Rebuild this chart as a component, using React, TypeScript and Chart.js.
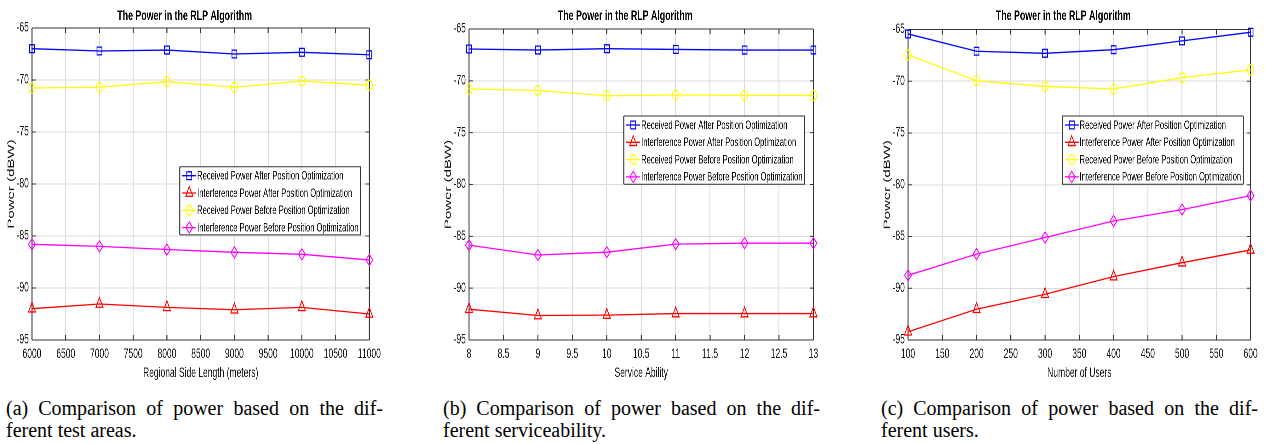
import React, { useEffect, useRef } from 'react';
import { Chart, registerables } from 'chart.js';

Chart.register(...registerables);

// ---------------- data ----------------
const seriesNames = [
  'Received Power After Position Optimization',
  'Interference Power After Position Optimization',
  'Received Power Before Position Optimization',
  'Interference Power Before Position Optimization',
];

const areaX = [6000, 7000, 8000, 9000, 10000, 11000];
const areaRecvAfter = [-66.99, -67.21, -67.12, -67.5, -67.34, -67.57];
const areaIntfAfter = [-91.99, -91.54, -91.86, -92.09, -91.86, -92.5];
const areaRecvBefore = [-70.77, -70.7, -70.16, -70.7, -70.1, -70.5];
const areaIntfBefore = [-85.8, -86.0, -86.3, -86.57, -86.76, -87.3];

const serviceX = [8, 9, 10, 11, 12, 13];
const serviceRecvAfter = [-66.93, -67.03, -66.9, -66.97, -67.03, -67.03];
const serviceIntfAfter = [-92.03, -92.64, -92.6, -92.45, -92.45, -92.45];
const serviceRecvBefore = [-70.79, -70.93, -71.44, -71.37, -71.4, -71.4];
const serviceIntfBefore = [-85.85, -86.8, -86.53, -85.75, -85.66, -85.66];

const usersX = [100, 200, 300, 400, 500, 600];
const usersRecvAfter = [-65.43, -67.1, -67.3, -66.95, -66.1, -65.27];
const usersIntfAfter = [-94.2, -92.03, -90.58, -88.88, -87.53, -86.3];
const usersRecvBefore = [-67.45, -69.95, -70.5, -70.75, -69.65, -68.9];
const usersIntfBefore = [-88.75, -86.7, -85.1, -83.5, -82.4, -81.05];

const yMin = -95;
const yMax = -65;
const yStep = 5;

const chartTitle = 'The Power in the RLP Algorithm';
const yTitle = 'Power (dBW)';

// ---------------- styles ----------------
const S = 0.63; // horizontal squeeze of the original figure
const SANS = '"Liberation Sans", Arial, Helvetica, sans-serif';
const SERIF = '"Liberation Serif", "Times New Roman", Times, serif';
const seriesColors = ['#0000ff', '#ff0000', '#ffff00', '#ff00ff'];
const seriesMarkers = ['rect', 'triangle', 'circle', 'rectRot'];
const markerRadius = [5.5, 6.5, 5, 5.5];
const AXIS = '#333333';
const GRID = '#dadada';
const TEXT = '#151515';
const TICK_SIZE = 13.5;
const TITLE_SIZE = 14;
const XLABEL_SIZE = 13.5;
const YLABEL_SIZE = 15;
const LEGEND_SIZE = 12;
const CANVAS_H = 390;

type Panel = {
  xs: number[];
  ys: number[][];
  xMin: number;
  xMax: number;
  xStep: number;
  xTitle: string;
  L: number;
  R: number;
  top: number;
  legendRight: number;
  legendTop: number;
  capLeft: number;
  cap1: string;
  cap2: string;
};

const panels: Panel[] = [
  {
    xs: areaX,
    ys: [areaRecvAfter, areaIntfAfter, areaRecvBefore, areaIntfBefore],
    xMin: 6000, xMax: 11000, xStep: 500,
    xTitle: 'Regional Side Length (meters)',
    L: 32, R: 369.3, top: 28,
    legendRight: 360.7, legendTop: 166.7,
    capLeft: 6,
    cap1: '(a)\u2002Comparison of power based on the dif-',
    cap2: 'ferent test areas.',
  },
  {
    xs: serviceX,
    ys: [serviceRecvAfter, serviceIntfAfter, serviceRecvBefore, serviceIntfBefore],
    xMin: 8, xMax: 13, xStep: 0.5,
    xTitle: 'Service Ability',
    L: 469.3, R: 813.7, top: 29,
    legendRight: 805, legendTop: 116,
    capLeft: 443,
    cap1: '(b)\u2002Comparison of power based on the dif-',
    cap2: 'ferent serviceability.',
  },
  {
    xs: usersX,
    ys: [usersRecvAfter, usersIntfAfter, usersRecvBefore, usersIntfBefore],
    xMin: 100, xMax: 600, xStep: 50,
    xTitle: 'Number of Users',
    L: 907.7, R: 1250, top: 29.5,
    legendRight: 1242.7, legendTop: 116,
    capLeft: 881,
    cap1: '(c)\u2002Comparison of power based on the dif-',
    cap2: 'ferent users.',
  },
];

function drawMarker(ctx: CanvasRenderingContext2D, style: string, x: number, y: number, r: number) {
  ctx.beginPath();
  if (style === 'rect') {
    const s = Math.SQRT1_2 * r;
    ctx.rect(x - s, y - s, 2 * s, 2 * s);
  } else if (style === 'triangle') {
    let rad = 0;
    ctx.moveTo(x + Math.sin(rad) * r, y - Math.cos(rad) * r);
    rad += (2 * Math.PI) / 3;
    ctx.lineTo(x + Math.sin(rad) * r, y - Math.cos(rad) * r);
    rad += (2 * Math.PI) / 3;
    ctx.lineTo(x + Math.sin(rad) * r, y - Math.cos(rad) * r);
    ctx.closePath();
  } else if (style === 'circle') {
    ctx.arc(x, y, r, 0, Math.PI * 2);
  } else {
    ctx.moveTo(x - r, y);
    ctx.lineTo(x, y - r);
    ctx.lineTo(x + r, y);
    ctx.lineTo(x, y + r);
    ctx.closePath();
  }
  ctx.stroke();
}

const boxPlugin = {
  id: 'matlabBox',
  beforeDatasetsDraw(chart: any) {
    const { ctx, chartArea } = chart;
    const { left, right, top, bottom } = chartArea;
    const xs = chart.scales.x;
    const ys = chart.scales.y;
    ctx.save();
    ctx.strokeStyle = AXIS;
    ctx.lineWidth = 1;
    ctx.beginPath();
    ctx.moveTo(left, top); ctx.lineTo(right, top);
    ctx.moveTo(left, bottom); ctx.lineTo(right, bottom);
    ys.ticks.forEach((t: any) => {
      const py = ys.getPixelForValue(t.value);
      ctx.moveTo(left, py); ctx.lineTo(left + 6, py);
      ctx.moveTo(right, py); ctx.lineTo(right - 6, py);
    });
    ctx.stroke();
    ctx.lineWidth = 1.6;
    ctx.beginPath();
    ctx.moveTo(left, top); ctx.lineTo(left, bottom);
    ctx.moveTo(right, top); ctx.lineTo(right, bottom);
    xs.ticks.forEach((t: any) => {
      const px = xs.getPixelForValue(t.value);
      ctx.moveTo(px, bottom); ctx.lineTo(px, bottom - 5);
      ctx.moveTo(px, top); ctx.lineTo(px, top + 5);
    });
    ctx.stroke();
    ctx.restore();
  },
};

const legendPlugin = {
  id: 'insideLegend',
  afterDraw(chart: any, _args: any, opts: any) {
    const { ctx } = chart;
    const rightU = opts.rightU as number;
    const topY = opts.topY as number;
    ctx.save();
    ctx.font = `${LEGEND_SIZE}px ${SANS}`;
    const labels: string[] = chart.data.datasets.map((d: any) => d.label);
    const textW = Math.max(...labels.map((n) => ctx.measureText(n).width));
    const padL = 4;
    const sample = 22;
    const gap = 1.5;
    const padR = 3.5;
    const rowH = 17.3;
    const w = padL + sample + gap + textW + padR;
    const h = 9 + rowH * 3 + 7.3;
    const x0 = rightU - w;
    ctx.fillStyle = '#ffffff';
    ctx.fillRect(x0, topY, w, h);
    ctx.strokeStyle = AXIS;
    ctx.lineWidth = 1;
    ctx.beginPath();
    ctx.moveTo(x0, topY); ctx.lineTo(x0 + w, topY);
    ctx.moveTo(x0, topY + h); ctx.lineTo(x0 + w, topY + h);
    ctx.stroke();
    ctx.lineWidth = 1.6;
    ctx.beginPath();
    ctx.moveTo(x0, topY); ctx.lineTo(x0, topY + h);
    ctx.moveTo(x0 + w, topY); ctx.lineTo(x0 + w, topY + h);
    ctx.stroke();
    chart.data.datasets.forEach((d: any, i: number) => {
      const cy = topY + 9 + i * rowH;
      ctx.strokeStyle = d.borderColor;
      ctx.lineWidth = 1.3;
      ctx.beginPath();
      ctx.moveTo(x0 + padL, cy);
      ctx.lineTo(x0 + padL + sample, cy);
      ctx.stroke();
      drawMarker(ctx, d.pointStyle, x0 + padL + sample / 2, cy, d.pointRadius);
      ctx.fillStyle = '#000000';
      ctx.textBaseline = 'middle';
      ctx.textAlign = 'left';
      ctx.fillText(d.label, x0 + padL + sample + gap, cy + 0.5);
    });
    ctx.restore();
  },
};

const fmt = (v: any) => String(Math.round(Number(v) * 100) / 100);

function PanelChart({ p }: { p: Panel }) {
  const ref = useRef<HTMLCanvasElement | null>(null);
  const x0 = p.L - 32;
  const wf = p.R - p.L + 64;
  const wu = wf / S;
  useEffect(() => {
    if (!ref.current) return;
    const datasets = seriesNames.map((name, i) => ({
      label: name,
      data: p.xs.map((x, j) => ({ x, y: p.ys[i][j] })),
      borderColor: seriesColors[i],
      backgroundColor: 'rgba(0,0,0,0)',
      borderWidth: 1.3,
      pointStyle: seriesMarkers[i],
      pointRadius: markerRadius[i],
      pointBorderColor: seriesColors[i],
      pointBackgroundColor: 'rgba(0,0,0,0)',
      pointBorderWidth: 1.3,
      tension: 0,
      clip: false,
    }));
    const titlePadTop = 16 - (TITLE_SIZE * 1.2) / 2;
    const titlePadBottom = p.top - TITLE_SIZE * 1.2 - titlePadTop;
    const chart = new Chart(ref.current, {
      type: 'line',
      data: { datasets } as any,
      options: {
        animation: false,
        responsive: true,
        maintainAspectRatio: false,
        devicePixelRatio: 2,
        layout: { padding: { left: 0, right: 32 / S, top: 0, bottom: 0 } },
        plugins: {
          legend: { display: false },
          tooltip: { enabled: false },
          title: {
            display: true,
            text: chartTitle,
            color: '#000000',
            font: { family: SANS, size: TITLE_SIZE, weight: 'bold' },
            padding: { top: titlePadTop, bottom: titlePadBottom },
          },
          insideLegend: {
            rightU: (p.legendRight - x0) / S,
            topY: p.legendTop,
          },
        } as any,
        scales: {
          x: {
            type: 'linear',
            min: p.xMin,
            max: p.xMax,
            ticks: {
              stepSize: p.xStep,
              autoSkip: false,
              maxRotation: 0,
              padding: 6,
              color: TEXT,
              font: { family: SANS, size: TICK_SIZE },
              callback: fmt,
            },
            grid: { color: GRID, lineWidth: 1.5, drawTicks: false },
            border: { display: false },
            title: {
              display: true,
              text: p.xTitle,
              color: TEXT,
              font: { family: SANS, size: XLABEL_SIZE },
              padding: { top: 0, bottom: 8.6 },
            },
            afterFit: (s: any) => { s.height = 50; },
          },
          y: {
            type: 'linear',
            min: yMin,
            max: yMax,
            ticks: {
              stepSize: yStep,
              padding: 5,
              color: TEXT,
              font: { family: SANS, size: TICK_SIZE },
              callback: fmt,
            },
            grid: { color: GRID, lineWidth: 1, drawTicks: false },
            border: { display: false },
            title: {
              display: true,
              text: yTitle,
              color: TEXT,
              font: { family: SANS, size: YLABEL_SIZE },
              padding: { top: 9, bottom: 0 },
            },
            afterFit: (s: any) => { s.width = 32 / S; },
          },
        } as any,
      },
      plugins: [boxPlugin, legendPlugin] as any,
    });
    return () => chart.destroy();
  }, [p]);
  return (
    <div
      style={{
        position: 'absolute',
        left: x0,
        top: 0,
        width: wu,
        height: CANVAS_H,
        transform: `scaleX(${S})`,
        transformOrigin: '0 0',
      }}
    >
      <canvas ref={ref} style={{ display: 'block' }} />
    </div>
  );
}

function Caption({ p }: { p: Panel }) {
  const common: React.CSSProperties = {
    position: 'absolute',
    left: p.capLeft,
    fontFamily: SERIF,
    fontSize: 20,
    lineHeight: '22px',
    color: '#000',
    whiteSpace: 'nowrap',
  };
  return (
    <>
      <div style={{ ...common, top: 397, width: 377, textAlign: 'justify', textAlignLast: 'justify' as any, whiteSpace: 'normal' }}>
        {p.cap1}
      </div>
      <div style={{ ...common, top: 419 }}>{p.cap2}</div>
    </>
  );
}

export default function App() {
  return (
    <div
      style={{
        position: 'absolute',
        left: 0,
        top: 0,
        width: 1269,
        height: 444,
        overflow: 'hidden',
        background: '#ffffff',
      }}
    >
      {panels.map((p, i) => (
        <PanelChart key={'c' + i} p={p} />
      ))}
      {panels.map((p, i) => (
        <Caption key={'t' + i} p={p} />
      ))}
    </div>
  );
}
